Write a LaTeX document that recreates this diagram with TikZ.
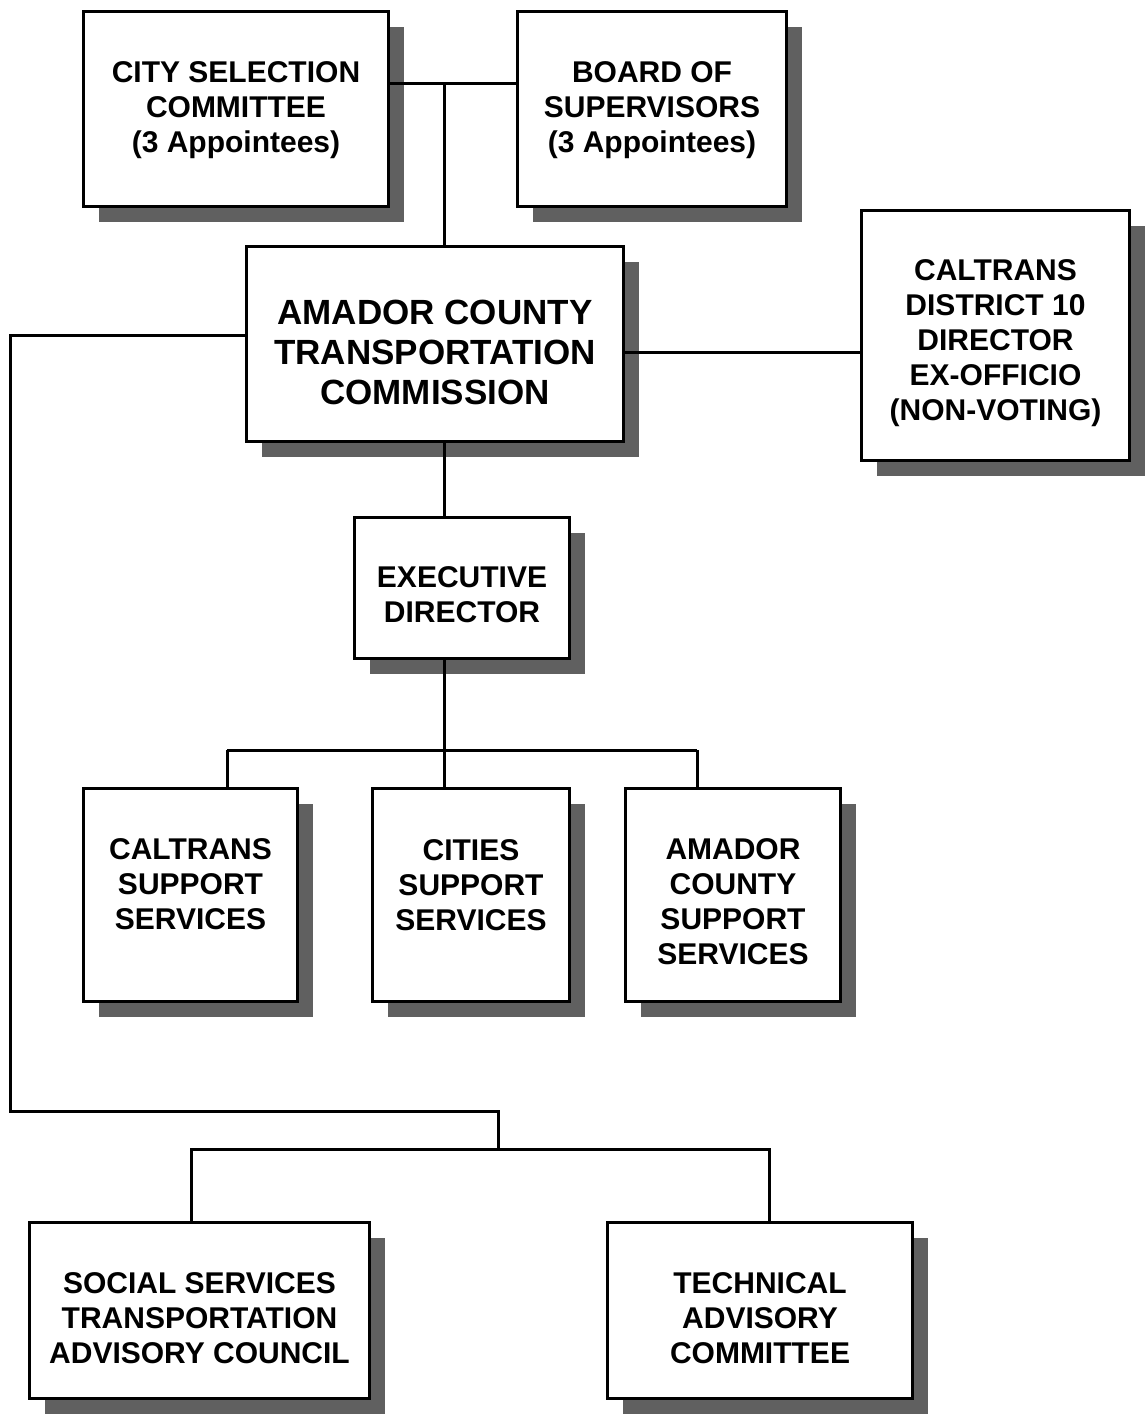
\documentclass[tikz,border=0pt]{standalone}
\usepackage{fontspec}
\setmainfont{Liberation Sans}
\usetikzlibrary{shadows}
\definecolor{shadowgray}{HTML}{606060}
\tikzset{
  orgbox/.style={draw=black, line width=3.5pt, fill=white, inner sep=0pt,
    drop shadow={shadow xshift=15pt, shadow yshift=-15pt, fill=shadowgray, opacity=1}},
  orgtext/.style={align=center, inner sep=0pt, font=\fontsize{30}{35}\selectfont\bfseries},
  bigtext/.style={align=center, inner sep=0pt, font=\fontsize{35}{40}\selectfont\bfseries},
  conn/.style={draw=black, line width=3pt}
}
\begin{document}
\begin{tikzpicture}[x=1pt, y=-1pt]
\useasboundingbox (0,0) rectangle (1148,1416);
% boxes
\node[orgbox, minimum width=305pt, minimum height=195pt] (csc) at (236,109) {};
\node[orgbox, minimum width=269pt, minimum height=195pt] (bos) at (652,109) {};
\node[orgbox, minimum width=377pt, minimum height=195pt] (actc) at (435,344) {};
\node[orgbox, minimum width=268pt, minimum height=250pt] (d10) at (995.5,335.5) {};
\node[orgbox, minimum width=215pt, minimum height=141pt] (ed) at (462,588) {};
\node[orgbox, minimum width=214pt, minimum height=213pt] (cs) at (190.5,895) {};
\node[orgbox, minimum width=197pt, minimum height=213pt] (cit) at (471,895) {};
\node[orgbox, minimum width=215pt, minimum height=213pt] (acs) at (733,895) {};
\node[orgbox, minimum width=340pt, minimum height=176pt] (ssc) at (199.5,1310.5) {};
\node[orgbox, minimum width=305pt, minimum height=176pt] (tac) at (760,1310.5) {};
% texts
\node[orgtext] (cscT) at (236,110) {CITY SELECTION\\COMMITTEE\\(3 Appointees)};
\node[orgtext] (bosT) at (652,110) {BOARD OF\\SUPERVISORS\\(3 Appointees)};
\node[bigtext] (actcT) at (435,352) {AMADOR COUNTY\\TRANSPORTATION\\COMMISSION};
\node[orgtext] (d10T) at (995.5,343) {CALTRANS\\DISTRICT 10\\DIRECTOR\\EX-OFFICIO\\(NON-VOTING)};
\node[orgtext] (edT) at (462,595) {EXECUTIVE\\DIRECTOR};
\node[orgtext] (csT) at (190.5,884.5) {CALTRANS\\SUPPORT\\SERVICES};
\node[orgtext] (citT) at (471,885) {CITIES\\SUPPORT\\SERVICES};
\node[orgtext] (acsT) at (733,902) {AMADOR\\COUNTY\\SUPPORT\\SERVICES};
\node[orgtext] (sscT) at (199.5,1318) {SOCIAL SERVICES\\TRANSPORTATION\\ADVISORY COUNCIL};
\node[orgtext] (tacT) at (760,1318) {TECHNICAL\\ADVISORY\\COMMITTEE};
% junction coordinates
\coordinate (j1) at (444,83);
\coordinate (j2) at (700,352);
\coordinate (j4) at (444,750);
\coordinate (b1) at (227,750);
\coordinate (b2) at (697,750);
\coordinate (l1) at (10,335);
\coordinate (l2) at (10,1111);
\coordinate (l3) at (498,1111);
\coordinate (l4) at (498,1149);
\coordinate (l5) at (191,1149);
\coordinate (l6) at (769,1149);
% connectors
\draw[conn] (csc.east |- j1) -- (bos.west |- j1);
\draw[conn] (j1) -- (actc.north -| j1);
\draw[conn] (actc.east |- j2) -- (d10.west |- j2);
\draw[conn] (actc.south -| j1) -- (ed.north -| j1);
\draw[conn] (ed.south -| j4) -- (j4);
\draw[conn] (b1) -- (b2);
\draw[conn] (b1) -- (b1 |- cs.north);
\draw[conn] (j4) -- (j4 |- cit.north);
\draw[conn] (b2) -- (b2 |- acs.north);
\draw[conn, line join=miter] (actc.west |- l1) -- (l1) -- (l2) -- (l3) -- (l4);
\draw[conn, line join=miter] (l5 |- ssc.north) -- (l5) -- (l6) -- (l6 |- tac.north);
\end{tikzpicture}
\end{document}
